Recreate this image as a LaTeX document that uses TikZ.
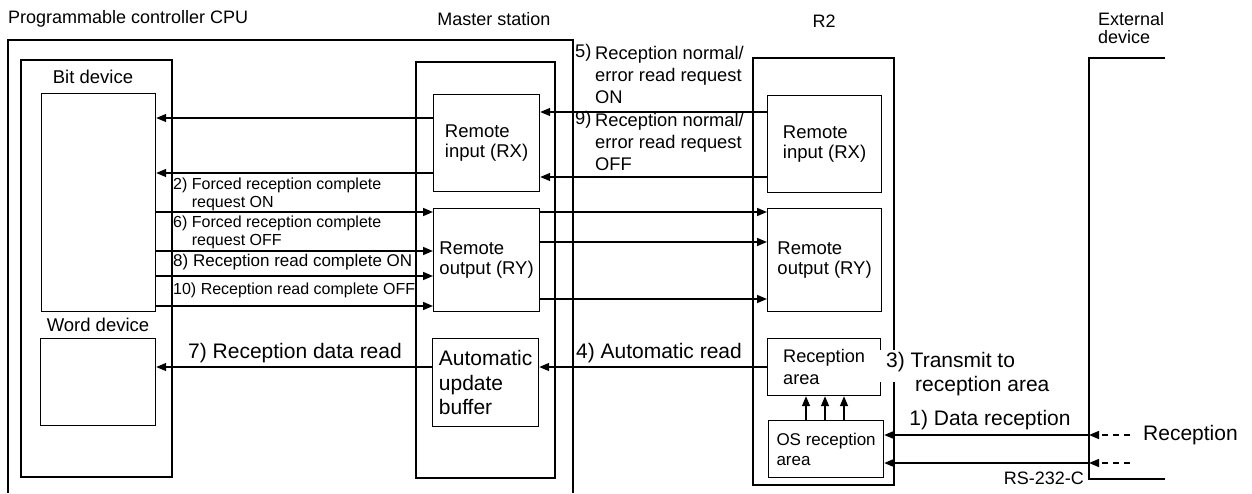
\documentclass[tikz,border=0pt]{standalone}
\usepackage{fontspec}
\setmainfont{Liberation Sans}
\usetikzlibrary{arrows.meta}

\begin{document}
\begin{tikzpicture}[x=1pt, y=-1pt,
	frame/.style={line width=1.2pt},
	box/.style={draw, line width=1.2pt, inner sep=0pt, anchor=north west, align=left, font=\fontsize{18.5}{19.5}\selectfont},
	arw/.style={line width=1.5pt, -{Triangle[length=10pt,width=8pt]}},
	hdr/.style={inner sep=0pt, align=left, font=\fontsize{18}{18}\selectfont},
	dev/.style={inner sep=0pt, font=\fontsize{18.5}{19.5}\selectfont},
	lbl/.style={inner sep=0pt, font=\fontsize{21}{24}\selectfont},
	note/.style={inner sep=0pt, anchor=west, align=left, font=\fontsize{18.3}{22}\selectfont},
	sml/.style={inner sep=0pt, anchor=west, align=left, font=\fontsize{16}{18}\selectfont}]
				\useasboundingbox (0,0) rectangle (1252,493);
				\coordinate (ext1) at (1089,435);
				\coordinate (ext2) at (1089,463);
				\coordinate (in1) at (1130,435);
				\coordinate (in2) at (1130,463);
				\node[hdr, anchor=west] (cpuT) at (8,19) {Programmable controller CPU};
				\node[hdr] (msT) at (494,19) {Master station};
				\node[hdr] (r2T) at (824,21) {R2};
				\node[hdr, anchor=west] (extT) at (1098,28) {External\\device};
				\draw[frame] (8,493) -- (8,40) -- (573,40) -- (573,493);
				\draw[frame] (21,60) rectangle (172,477);
				\draw[frame] (416,62) rectangle (555,478);
				\draw[frame] (753,58) rectangle (894,485);
				\draw[frame] (1165,58) -- (1089,58) -- (1089,479) -- (1165,479);
				\node[dev] (bitT) at (93,77) {Bit device};
				\node[dev] (wordT) at (98,325) {Word device};
				\node[box, minimum width=114pt, minimum height=218pt] (bit) at (41,93) {};
				\node[box, minimum width=115pt, minimum height=87pt] (word) at (40,338) {};
				\node[box, minimum width=106pt, minimum height=97pt] (rxM) at (433,94) {Remote\\input (RX)};
				\node[box, minimum width=106pt, minimum height=103pt] (ryM) at (433,208) {Remote\\output (RY)};
				\node[box, minimum width=106pt, minimum height=88pt, font=\fontsize{21}{24.5}\selectfont] (buf) at (432,338) {Automatic\\update\\buffer};
				\node[box, minimum width=114pt, minimum height=97pt] (rxR) at (767,95) {Remote\\input (RX)};
				\node[box, minimum width=114pt, minimum height=103pt] (ryR) at (767,208) {Remote\\output (RY)};
				\node[box, minimum width=113pt, minimum height=57pt, font=\fontsize{18.2}{22}\selectfont] (rcv) at (767,338) {Reception\\area};
				\node[box, minimum width=115pt, minimum height=57pt, font=\fontsize{17}{20}\selectfont] (osr) at (768,420) {OS reception\\area};
				\draw[arw] (rxR.west |- 0,112) -- (rxM.east |- 0,112);
				\draw[arw] (rxR.west |- 0,177) -- (rxM.east |- 0,177);
				\draw[arw] (rxM.west |- 0,118) -- (bit.east |- 0,118);
				\draw[arw] (rxM.west |- 0,173) -- (bit.east |- 0,173);
				\foreach \y in {212,251,276,306}
					\draw[arw] (bit.east |- 0,\y) -- (ryM.west |- 0,\y);
				\foreach \y in {212,242,299}
					\draw[arw] (ryM.east |- 0,\y) -- (ryR.west |- 0,\y);
				\draw[arw] (rcv.west |- 0,367) -- (buf.east |- 0,367);
				\draw[arw] (buf.west |- 0,367) -- (word.east |- 0,367);
				\foreach \x in {806,825,844}
					\draw[arw] (osr.north -| \x,0) -- (rcv.south -| \x,0);
				\draw[arw] (ext1) -- (osr.east |- ext1);
				\draw[arw] (ext2) -- (osr.east |- ext2);
				\draw[arw, dash pattern=on 6pt off 5pt] (in1) -- (ext1);
				\draw[arw, dash pattern=on 6pt off 5pt] (in2) -- (ext2);
				\node[note] (n5) at (575,53) {5)};
				\node[note] (l5) at (595,75) {Reception normal/\\error read request\\ON};
				\node[note] (n9) at (575,120) {9)};
				\node[note] (l9) at (595,142) {Reception normal/\\error read request\\OFF};
				\node[sml] (l2) at (173,194) {2) Forced reception complete\\\phantom{2) }request ON};
				\node[sml] (l6) at (173,232) {6) Forced reception complete\\\phantom{6) }request OFF};
				\node[sml, font=\fontsize{17}{18}\selectfont] (l8) at (173,262) {8) Reception read complete ON};
				\node[sml] (l10) at (173,290) {10) Reception read complete OFF};
				\node[lbl] (l7) at (295,353) {7) Reception data read};
				\node[lbl] (l4) at (659,353) {4) Automatic read};
				\node[lbl, fill=white, anchor=base west, text height=17pt, text depth=15pt, inner xsep=7pt] (l3) at (879,367) {3) Transmit to};
				\node[lbl, anchor=base west] (l3b) at (915,391) {reception area};
				\node[lbl] (l1) at (990,420) {1) Data reception};
				\node[lbl, anchor=west] (rcvT) at (1143,435) {Reception};
				\node[hdr, anchor=east] (rs) at (1084,478) {RS-232-C};
			\end{tikzpicture}
\end{document}
